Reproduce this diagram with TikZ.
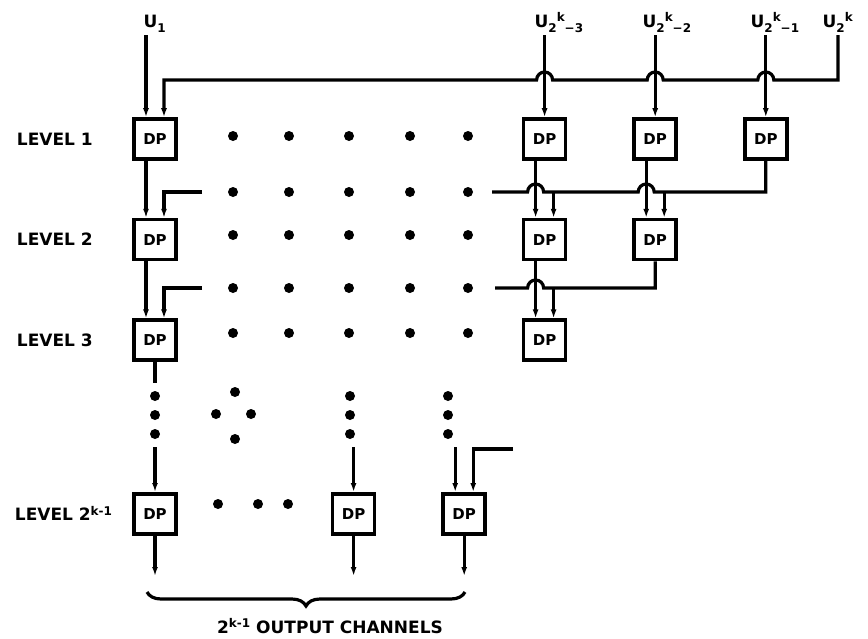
\documentclass[tikz,border=0pt]{standalone}
\usepackage{fontspec}
\setmainfont{DejaVu Sans}
\usetikzlibrary{positioning}
\usetikzlibrary{arrows.meta}
\usetikzlibrary{decorations.pathreplacing}

\newcommand{\subtx}[1]{\raisebox{-0.6ex}{\fontsize{12}{12}\selectfont #1}}
\newcommand{\suptx}[1]{\raisebox{0.55ex}{\fontsize{12}{12}\selectfont #1}}

\tikzset{
	dp/.style={draw,line width=3.6pt,minimum width=42pt,minimum height=40pt,inner sep=0pt,font=\fontsize{15}{15}\selectfont\bfseries},
	lvl/.style={anchor=west,font=\fontsize{17}{17}\selectfont\bfseries},
	ulbl/.style={anchor=base west,inner sep=1pt,font=\fontsize{17}{17}\selectfont\bfseries},
	arr/.style={-{Latex[length=9pt,width=6pt]}},
	hop/.style={insert path={arc[start angle=0,end angle=180,radius=8pt]}}
}

\begin{document}
\begin{tikzpicture}[x=1pt,y=-1pt,line width=3.2pt,node distance=57pt and 65pt]
	\useasboundingbox (0,0) rectangle (868,638);
	% processors
	\node[dp] (d11) at (155,139) {DP};
	\node[dp, right=344pt of d11] (d1a) {DP};
	\node[dp, right=of d1a] (d1b) {DP};
	\node[dp, right=of d1b] (d1c) {DP};
	\node[dp, below=of d11] (d21) {DP};
	\node[dp, below=of d1a] (d2a) {DP};
	\node[dp, below=of d1b] (d2b) {DP};
	\node[dp, below=of d21] (d31) {DP};
	\node[dp, below=of d2a] (d3a) {DP};
	\node[dp, below=130pt of d31] (d41) {DP};
	\node[dp, right=153pt of d41] (d4b) {DP};
	\node[dp, right=of d4b] (d4c) {DP};
	% labels
	\node[lvl] (l1) at (12,0 |- d11) {LEVEL 1};
	\node[lvl] (l2) at (12,0 |- d21) {LEVEL 2};
	\node[lvl] (l3) at (12,0 |- d31) {LEVEL 3};
	\node[lvl] (l4) at (10,0 |- d41) {LEVEL 2\suptx{k-1}};
	\node[ulbl] (u1) at (141,27) {U\subtx{1}};
	\node[ulbl] (ua) at (532,27) {U\subtx{2}\suptx{k}\subtx{−3}};
	\node[ulbl] (ub) at (640,27) {U\subtx{2}\suptx{k}\subtx{−2}};
	\node[ulbl] (uc) at (748,27) {U\subtx{2}\suptx{k}\subtx{−1}};
	\node[ulbl] (ud) at (820,27) {U\subtx{2}\suptx{k}};
	\node[lvl, anchor=center] (oc) at (330,626) {2\suptx{k-1} OUTPUT CHANNELS};
	% free ends
	\coordinate (bus0) at (838,80);
	\coordinate (bus2) at (492,192);
	\coordinate (bus3) at (495,288);
	\coordinate (s2) at (202,192);
	\coordinate (s3) at (202,288);
	\coordinate (s4) at (513,449);
	\coordinate (e3) at (0,383);
	\coordinate (t4) at (0,447);
	\coordinate (out) at (0,576);
	\coordinate (br1) at (147,592);
	\coordinate (br2) at (465,592);

	% level 1 inputs
	\draw[arr] ([xshift=-9pt]d11.north |- u1.south) -- ([xshift=-9pt]d11.north);
	\draw[arr] (ua.south -| d1a.north) -- (d1a.north);
	\draw[arr] (ub.south -| d1b.north) -- (d1b.north);
	\draw[arr] (uc.south -| d1c.north) -- (d1c.north);
	\draw[arr] (ud.south -| bus0) -- (bus0) -- ([xshift=8pt]d1c.north |- bus0) [hop]
		-- ([xshift=8pt]d1b.north |- bus0) [hop] -- ([xshift=8pt]d1a.north |- bus0) [hop]
		-- ([xshift=9pt]d11.north |- bus0) -- ([xshift=9pt]d11.north);
	% level 1 -> level 2
	\draw[arr] ([xshift=-9pt]d11.south) -- ([xshift=-9pt]d21.north);
	\draw[arr] ([xshift=-9pt]d1a.south) -- ([xshift=-9pt]d2a.north);
	\draw[arr] ([xshift=-9pt]d1b.south) -- ([xshift=-9pt]d2b.north);
	\draw[arr] (s2) -| ([xshift=9pt]d21.north);
	\draw (d1c.south) -- (d1c.south |- bus2) -- ([xshift=-1pt]d2b.north |- bus2) [hop]
		-- ([xshift=-1pt]d2a.north |- bus2) [hop] -- (bus2);
	\draw[arr] ([xshift=9pt]d2a.north |- bus2) -- ([xshift=9pt]d2a.north);
	\draw[arr] ([xshift=9pt]d2b.north |- bus2) -- ([xshift=9pt]d2b.north);
	% level 2 -> level 3
	\draw[arr] ([xshift=-9pt]d21.south) -- ([xshift=-9pt]d31.north);
	\draw[arr] ([xshift=-9pt]d2a.south) -- ([xshift=-9pt]d3a.north);
	\draw[arr] (s3) -| ([xshift=9pt]d31.north);
	\draw (d2b.south) -- (d2b.south |- bus3) -- ([xshift=-1pt]d3a.north |- bus3) [hop] -- (bus3);
	\draw[arr] ([xshift=9pt]d3a.north |- bus3) -- ([xshift=9pt]d3a.north);
	% last level
	\draw (d31.south) -- (d31.south |- e3);
	\draw[arr] (d41.north |- t4) -- (d41.north);
	\draw[arr] (d4b.north |- t4) -- (d4b.north);
	\draw[arr] ([xshift=-9pt]d4c.north |- t4) -- ([xshift=-9pt]d4c.north);
	\draw[arr] (s4) -| ([xshift=9pt]d4c.north);
	\draw[arr] (d41.south) -- (d41.south |- out);
	\draw[arr] (d4b.south) -- (d4b.south |- out);
	\draw[arr] (d4c.south) -- (d4c.south |- out);
	\draw[decorate,decoration={brace,mirror,amplitude=14pt}] (br1) -- (br2);

	% dots
	\foreach \yy in {136,192,235,288,333}
		\foreach \xx in {233,289,349,410,468}
			\fill (\xx,\yy) circle[radius=5pt];
	\foreach \xx in {155,350,448}
		\foreach \yy in {396,415,434}
			\fill (\xx,\yy) circle[radius=5pt];
	\foreach \xx/\yy in {235/392,216/414,251/414,235/439,218/504,258/504,288/504}
		\fill (\xx,\yy) circle[radius=5pt];
\end{tikzpicture}
\end{document}
